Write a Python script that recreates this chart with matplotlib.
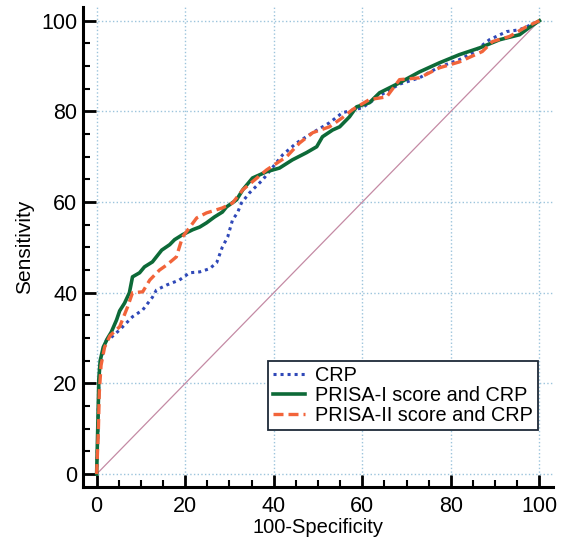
import matplotlib
matplotlib.use("Agg")
import matplotlib.pyplot as plt
from matplotlib.ticker import MultipleLocator

plt.rcParams["font.family"] = ["Liberation Sans", "DejaVu Sans"]

# values (100-specificity, sensitivity)
crp_x = [0, 0.3, 0.5, 0.7, 1.2, 2.2, 2.9, 5.2, 8.1, 10.4, 12.6, 13.5, 15.8, 18.7, 21, 23.3,
         25.5, 27.1, 28.4, 29.6, 30.7, 31.8, 32.7, 34.5, 37.5, 40.6, 42, 45.1, 48.8, 52.6,
         55.5, 60, 64, 68.4, 72.9, 77.4, 81.9, 84.9, 88.7, 92.6, 95.5, 99.3, 100]
crp_y = [0, 10, 20, 23, 26, 29.6, 29.8, 31.8, 34.7, 36.2, 39, 40.6, 41.7, 42.8, 44.4, 44.6,
         45.3, 46.6, 50.1, 52.3, 56.1, 57.6, 59.8, 62, 64.9, 68.7, 70.4, 73, 75.3, 77.5,
         79.7, 80.8, 83.5, 86, 87.4, 89.8, 91.4, 92.9, 95.8, 97.6, 98, 99.6, 100]

prisa1_x = [0, 0.3, 0.5, 0.8, 1.5, 2.5, 3.3, 4.5, 5.2, 6.3, 7.4, 8.1, 9.7, 10.8, 12.6, 14.7,
            16.5, 17.6, 19.4, 21.7, 23.3, 24.8, 26.6, 28.4, 29.3, 31.6, 33, 35.2, 38.4, 41.3,
            44.2, 47.4, 49.7, 51, 53.3, 54.9, 57.1, 58.7, 61.6, 63.9, 68.4, 72.9, 77.4, 81.9,
            86.5, 91, 95.5, 97.7, 100]
prisa1_y = [0, 12, 21, 25, 28, 30, 31.3, 34, 36, 37.7, 40, 43.5, 44.4, 45.7, 46.8, 49.4,
            50.6, 51.7, 52.8, 53.9, 54.5, 55.4, 56.7, 57.8, 58.9, 60.5, 62.7, 65.3, 66.7, 67.5,
            69.3, 70.9, 72.2, 74.4, 75.9, 76.6, 78.8, 81, 81.9, 84.1, 86.3, 88.7, 90.7, 92.5,
            94, 95.8, 96.9, 98.5, 100]

prisa2_x = [0, 0.4, 0.6, 1, 1.8, 3, 5.2, 7, 8.1, 10.4, 12, 14.2, 15.8, 18, 19.4, 22.6, 24.8,
            28.4, 30.7, 33, 38.4, 42.9, 45.8, 48.8, 52.6, 55.5, 57.8, 61.6, 65.5, 68.4, 72.9,
            77.4, 81.9, 87.1, 89.4, 93.2, 97.1, 100]
prisa2_y = [0, 10, 18, 24, 28, 30.5, 32.5, 36.9, 40, 40.2, 42.8, 45, 46.1, 47.9, 52.3, 56.5,
            57.6, 58.7, 59.8, 62.7, 67.1, 70, 73, 75.3, 76.6, 78.6, 80.4, 82.6, 83.2, 87, 87.4,
            89.6, 90.9, 93.2, 95.4, 96.5, 98.7, 100]

labels = ["CRP", "PRISA-I score and CRP", "PRISA-II score and CRP"]

fig = plt.figure(figsize=(5.64, 5.45), dpi=100)
ax = fig.add_axes([0.147, 0.106, 0.833, 0.881])

# reference diagonal
ax.plot([0, 100], [0, 100], color="#c48aa4", lw=0.9, zorder=2)

ax.plot(crp_x, crp_y, color="#2f48b8", lw=2.2, ls=(0, (1, 1.3)), label=labels[0], zorder=3)
ax.plot(prisa1_x, prisa1_y, color="#0d6a38", lw=2.6, label=labels[1], zorder=4)
ax.plot(prisa2_x, prisa2_y, color="#f2643a", lw=2.4, ls=(0, (3, 1.5)), label=labels[2], zorder=5)

ax.set_xlim(-3.1, 103)
ax.set_ylim(-2.9, 103)

ax.xaxis.set_major_locator(MultipleLocator(20))
ax.yaxis.set_major_locator(MultipleLocator(20))
ax.xaxis.set_minor_locator(MultipleLocator(5))
ax.yaxis.set_minor_locator(MultipleLocator(5))

ax.grid(True, which="major", color="#9cc4dc", ls=":", lw=1.0)

for s in ["top", "right"]:
    ax.spines[s].set_visible(False)
for s in ["left", "bottom"]:
    ax.spines[s].set_linewidth(2.2)

ax.tick_params(which="major", direction="in", length=9, width=2, labelsize=15.5)
ax.tick_params(which="minor", direction="in", length=5, width=1.5)
ax.tick_params(axis="x", which="major", pad=6)
ax.tick_params(axis="y", which="major", pad=4)

ax.set_xlabel("100-Specificity", fontsize=14.5, labelpad=1)
ax.set_ylabel("Sensitivity", fontsize=15, labelpad=5)

leg = ax.legend(loc="lower right", bbox_to_anchor=(0.968, 0.119), borderaxespad=0,
                fontsize=14.3, handlelength=1.6, labelspacing=0.05, borderpad=0.25,
                handletextpad=0.5, fancybox=False, framealpha=1)
leg.get_frame().set_edgecolor("#1e2a38")
leg.get_frame().set_linewidth(1.3)

fig.savefig("out.png", dpi=100)
